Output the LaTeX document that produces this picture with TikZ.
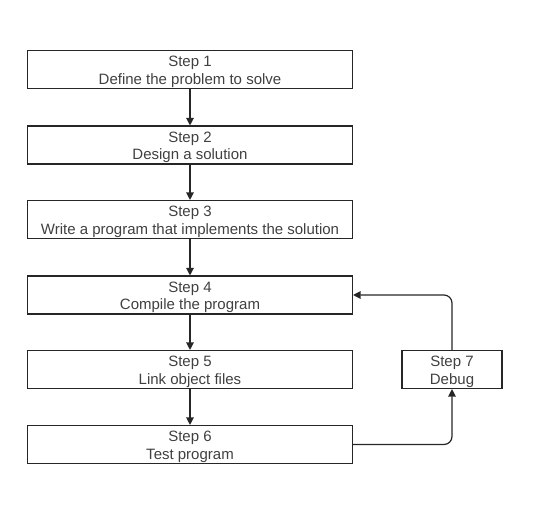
\documentclass[tikz,border=0pt]{standalone}
\usepackage{fontspec}
\setmainfont{Liberation Sans}
\usetikzlibrary{arrows.meta}
\begin{document}
\begin{tikzpicture}[x=1pt,y=-1pt,
  stepbox/.style={draw=black!85,line width=1.1pt,minimum height=38pt,inner sep=0pt},
  steptext/.style={align=center,font=\fontsize{15}{17.5}\selectfont,text=black!75,yshift=-2.5pt,inner sep=0pt},
  conn/.style={draw=black!85,line width=1.2pt,-{Triangle[length=7.5pt,width=7.5pt]},rounded corners=8pt}]
\useasboundingbox (0,0) rectangle (533,512);
\node[stepbox,minimum width=325pt,label={[steptext]center:{Step 1\\Define the problem to solve}}] (s1) at (190,69.5) {};
\node[stepbox,minimum width=325pt,label={[steptext]center:{Step 2\\Design a solution}}] (s2) at (190,145) {};
\node[stepbox,minimum width=325pt,label={[steptext]center:{Step 3\\Write a program that implements the solution}}] (s3) at (190,219.5) {};
\node[stepbox,minimum width=325pt,label={[steptext]center:{Step 4\\Compile the program}}] (s4) at (190,295) {};
\node[stepbox,minimum width=325pt,label={[steptext]center:{Step 5\\Link object files}}] (s5) at (190,369.5) {};
\node[stepbox,minimum width=325pt,label={[steptext]center:{Step 6\\Test program}}] (s6) at (190,444.5) {};
\node[stepbox,minimum width=100pt,label={[steptext]center:{Step 7\\Debug}}] (s7) at (452,369.5) {};
\draw[conn] (s1) -- (s2);
\draw[conn] (s2) -- (s3);
\draw[conn] (s3) -- (s4);
\draw[conn] (s4) -- (s5);
\draw[conn] (s5) -- (s6);
\draw[conn] (s6.east) -| (s7.south);
\draw[conn] (s7.north) |- (s4.east);
\end{tikzpicture}
\end{document}
